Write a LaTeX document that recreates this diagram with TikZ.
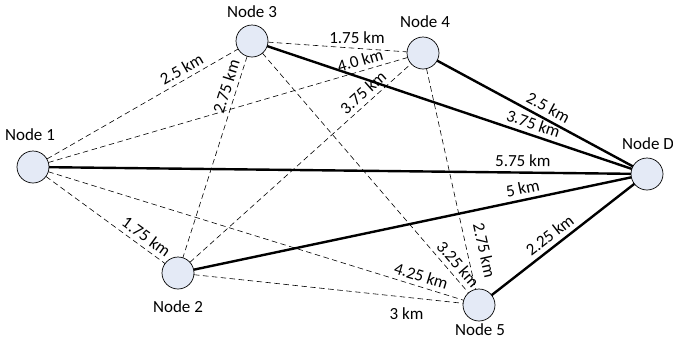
\documentclass[tikz,border=0pt]{standalone}
\usepackage{fontspec}
\setmainfont{Carlito}
\begin{document}
\begin{tikzpicture}[x=1pt,y=-1pt,
  site/.style={circle,draw=black,line width=0.7pt,fill=nodefill,minimum size=32pt,inner sep=0pt,outer sep=0pt},
  nlabel/.style={font=\fontsize{17}{20}\selectfont,inner sep=0pt},
  thick link/.style={line width=2.4pt},
  thin link/.style={line width=0.6pt,dash pattern=on 5.5pt off 3.5pt},
  dtext/.style={font=\fontsize{17}{20}\selectfont,inner sep=4.5pt},
  dist/.style={dtext,sloped}
]
\definecolor{nodefill}{RGB}{228,234,246}
\useasboundingbox (0,0) rectangle (673,349);
\node[site] (n1) at (33,167) {};
\node[site] (n3) at (252,41) {};
\node[site] (n4) at (423,53) {};
\node[site] (nd) at (647,174) {};
\node[site] (n2) at (178,273) {};
\node[site] (n5) at (479,305) {};
\node[nlabel] (l1) at (30,135) {Node 1};
\node[nlabel] (l3) at (252,12) {Node 3};
\node[nlabel] (l4) at (425,22) {Node 4};
\node[nlabel] (ld) at (648,144) {Node D};
\node[nlabel] (l2) at (178,307) {Node 2};
\node[nlabel] (l5) at (480,330) {Node 5};
% dashed links
\draw[thin link] (n1) -- node[dist,pos=0.732,above] {2.5 km} (n3);
\draw[thin link] (n1) -- node[dist,pos=0.876,above] {4.0 km} (n4);
\draw[thin link] (n1) -- node[dist,pos=0.79,above] {1.75 km} (n2);
\draw[thin link] (n1) -- node[dist,pos=0.89,above] {4.25 km} (n5);
\draw[thin link] (n3) -- node[dtext,pos=0.64,above] {1.75 km} (n4);
\draw[thin link] (n3) -- node[dist,pos=0.167,above] {2.75 km} (n2);
\draw[thin link] (n3) -- node[dist,pos=0.91,above] {3.25 km} (n5);
\draw[thin link] (n2) -- node[dist,pos=0.815,above] {3.75 km} (n4);
\draw[thin link] (n4) -- node[dist,pos=0.84,above,inner sep=11pt] {2.75 km} (n5);
\draw[thin link] (n2) -- node[dtext,pos=0.79,below=6pt] {3 km} (n5);
% thick links
\draw[thick link] (n3) -- node[dist,pos=0.72,above] {3.75 km} (nd);
\draw[thick link] (n4) -- node[dist,pos=0.54,above] {2.5 km} (nd);
\draw[thick link] (n1) -- node[dist,pos=0.814,above] {5.75 km} (nd);
\draw[thick link] (n2) -- node[dist,pos=0.757,above] {5 km} (nd);
\draw[thick link] (n5) -- node[dist,pos=0.457,above] {2.25 km} (nd);
\end{tikzpicture}
\end{document}
